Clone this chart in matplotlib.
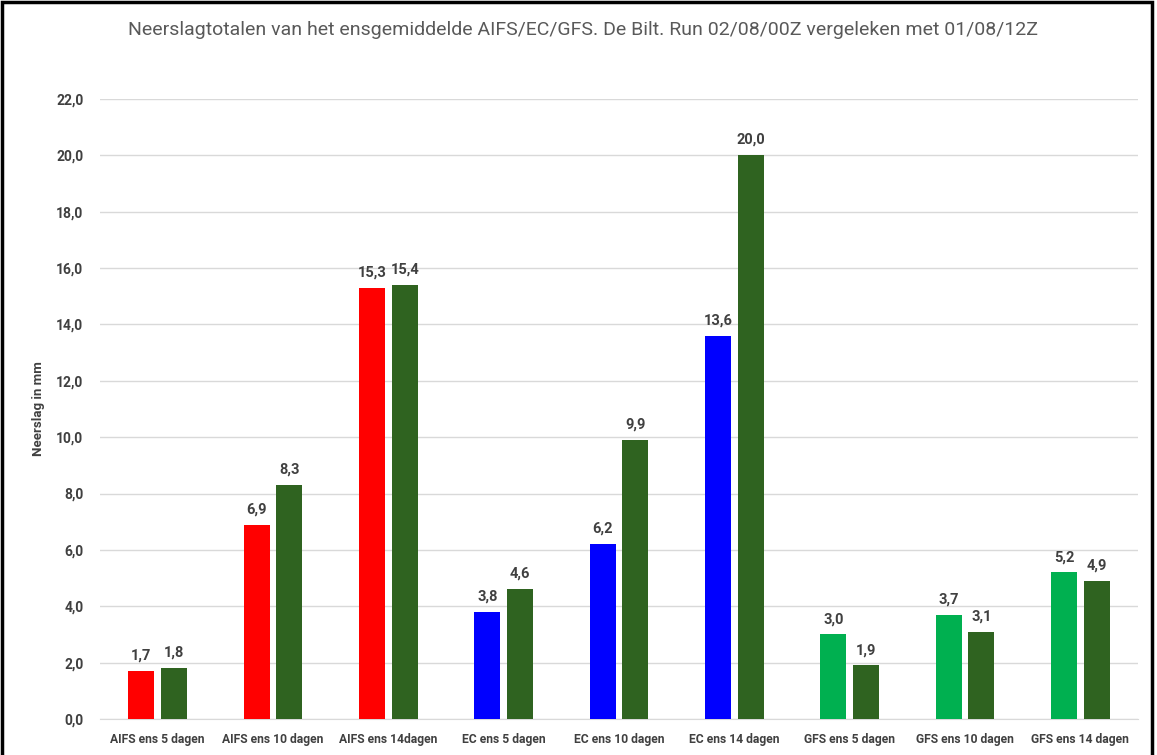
import numpy as np
import matplotlib.pyplot as plt
from matplotlib.patches import Rectangle

categories = ["AIFS ens 5 dagen", "AIFS ens 10 dagen", "AIFS ens 14dagen",
              "EC ens 5 dagen", "EC ens 10 dagen", "EC ens 14 dagen",
              "GFS ens 5 dagen", "GFS ens 10 dagen", "GFS ens 14 dagen"]
run_0208 = [1.7, 6.9, 15.3, 3.8, 6.2, 13.6, 3.0, 3.7, 5.2]
run_0108 = [1.8, 8.3, 15.4, 4.6, 9.9, 20.0, 1.9, 3.1, 4.9]
yticks = np.arange(0, 24, 2)

c_first = ["#FF0000"] * 3 + ["#0000FF"] * 3 + ["#00B050"] * 3
c_second = "#2F6320"
txt = "#404040"

plt.rcParams['font.family'] = ['Roboto', 'DejaVu Sans']

fig = plt.figure(figsize=(11.57, 7.55), dpi=100)
ax = fig.add_axes([0.0864, 0.0477, 0.8972, 0.8212])

x = np.arange(len(categories))
w = 0.226
off = 0.142
b1 = ax.bar(x - off, run_0208, width=w, color=c_first, zorder=3)
b2 = ax.bar(x + off, run_0108, width=w, color=c_second, zorder=3)

fmt = lambda v: f"{v:.1f}".replace(".", ",")
for bars, vals in ((b1, run_0208), (b2, run_0108)):
    for r, v in zip(bars, vals):
        ax.annotate(fmt(v), (r.get_x() + r.get_width() / 2, v),
                    xytext=(0, 6), textcoords="offset points",
                    ha="center", va="bottom", fontsize=10.5,
                    fontweight="bold", color=txt)

ax.set_xlim(-0.5, len(categories) - 0.5)
ax.set_ylim(0, 22)
ax.set_yticks(yticks)
ax.set_yticklabels([fmt(v) for v in yticks], fontsize=10, fontweight="bold", color=txt)
ax.set_xticks(x)
ax.set_xticklabels(categories, fontsize=8.7, fontweight="bold", color=txt)
ax.tick_params(length=0, pad=10)
ax.tick_params(axis="y", pad=12)
ax.yaxis.grid(True, color="#D9D9D9", linewidth=1, zorder=0)
for s in ["top", "right", "left"]:
    ax.spines[s].set_visible(False)
ax.spines["bottom"].set_color("#D9D9D9")
ax.set_ylabel("Neerslag in mm", fontsize=9.5, fontweight="bold", color=txt, labelpad=8)

fig.text(0.504, 0.96, "Neerslagtotalen van het ensgemiddelde AIFS/EC/GFS. De Bilt. Run 02/08/00Z vergeleken met 01/08/12Z",
         ha="center", va="center", fontsize=14, color="#595959")

fig.patches.append(Rectangle((0.002, -0.05), 0.994, 1.048, transform=fig.transFigure,
                             fill=False, edgecolor="black", linewidth=2.5))

fig.savefig("out.png", dpi=100)
